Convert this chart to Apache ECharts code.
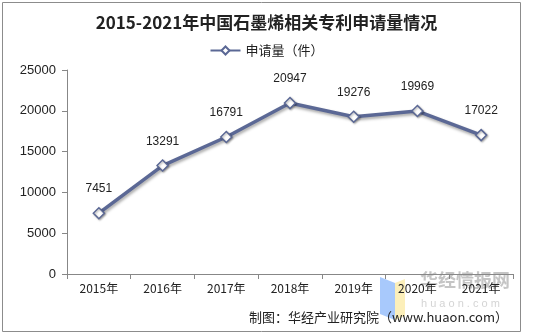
<!DOCTYPE html>
<html>
<head>
<meta charset="utf-8">
<script src="https://cdn.jsdelivr.net/npm/echarts@6/dist/echarts.min.js"></script>
<style>
html,body{margin:0;padding:0;background:#fff;}
#chart{width:533px;height:333px;}
</style>
</head>
<body>
<div id="chart"></div>
<script>
// Graphene patent applications in China, 2015-2021
var years = ['2015年', '2016年', '2017年', '2018年', '2019年', '2020年', '2021年'];
var applications = [7451, 13291, 16791, 20947, 19276, 19969, 17022];
var seriesName = '申请量（件）';
var titleText = '2015-2021年中国石墨烯相关专利申请量情况';
var sourceText = '制图：华经产业研究院（www.huaon.com）';

var lineColor = '#5B6895';
var chart = echarts.init(document.getElementById('chart'), null, {renderer: 'canvas'});

chart.setOption({
  backgroundColor: '#fff',
  animation: false,
  title: {
    text: titleText,
    left: 'center',
    top: 9,
    textStyle: {
      fontFamily: 'Noto Sans CJK SC',
      fontWeight: 'bold',
      fontSize: 17,
      color: '#222'
    }
  },
  legend: {
    data: [seriesName],
    top: 39,
    left: 'center',
    itemWidth: 30,
    itemHeight: 10,
    itemGap: 4,
    textStyle: {fontFamily: 'Noto Sans CJK SC', fontSize: 13, color: '#222'}
  },
  grid: {left: 67, right: 20, top: 70, bottom: 59},
  xAxis: {
    type: 'category',
    data: years,
    boundaryGap: true,
    axisLine: {lineStyle: {color: '#878787', width: 1}},
    axisTick: {show: true, length: 5, lineStyle: {color: '#878787'}},
    axisLabel: {fontFamily: 'Noto Sans CJK SC', fontSize: 12, color: '#222', margin: 8}
  },
  yAxis: {
    type: 'value',
    min: 0,
    max: 25000,
    interval: 5000,
    splitLine: {show: false},
    axisLine: {show: true, lineStyle: {color: '#878787', width: 1}},
    axisTick: {show: true, length: 5, lineStyle: {color: '#878787'}},
    axisLabel: {
      fontFamily: 'Liberation Sans',
      fontSize: 13,
      color: '#222',
      margin: 11,
      formatter: function (v) { return String(v); }
    }
  },
  series: [{
    name: seriesName,
    type: 'line',
    data: applications,
    symbol: 'diamond',
    symbolSize: 11,
    lineStyle: {
      color: lineColor,
      width: 3.5,
      shadowColor: 'rgba(0,0,0,0.35)',
      shadowBlur: 3,
      shadowOffsetX: 1,
      shadowOffsetY: 2
    },
    itemStyle: {
      color: '#fff',
      borderColor: lineColor,
      borderWidth: 1.5,
      shadowColor: 'rgba(0,0,0,0.3)',
      shadowBlur: 2,
      shadowOffsetX: 1,
      shadowOffsetY: 1
    },
    label: {
      show: true,
      position: 'top',
      distance: 12,
      fontFamily: 'Liberation Sans',
      fontSize: 12,
      color: '#222'
    }
  }],
  graphic: [
    // outer frame
    {
      type: 'rect',
      shape: {x: 2.5, y: 2.5, width: 518, height: 329},
      style: {fill: 'none', stroke: '#8c8c8c', lineWidth: 1},
      silent: true
    },
    // watermark logo
    {
      type: 'polygon',
      shape: {points: [[380, 277], [395, 283], [395, 320], [380, 314]]},
      style: {fill: 'rgba(110,165,250,0.6)'},
      silent: true
    },
    {
      type: 'polygon',
      shape: {points: [[395, 283], [405, 279], [405, 316], [395, 320]]},
      style: {fill: 'rgba(250,228,140,0.6)'},
      silent: true
    },
    {
      type: 'text',
      left: 420,
      top: 271,
      style: {
        text: '华经情报网',
        fontFamily: 'Noto Sans CJK SC',
        fontWeight: 'bold',
        fontSize: 18,
        fill: 'rgba(140,140,140,0.5)'
      },
      silent: true
    },
    {
      type: 'text',
      left: 421,
      top: 298,
      style: {
        text: 'h u a o n . c o m',
        fontFamily: 'Liberation Sans',
        fontSize: 11,
        fill: 'rgba(170,170,170,0.5)'
      },
      silent: true
    },
    {
      type: 'text',
      right: 25,
      top: 311,
      style: {
        text: sourceText,
        fontFamily: 'Noto Sans CJK SC',
        fontSize: 13,
        fill: '#222'
      },
      silent: true
    }
  ]
});
</script>
</body>
</html>
